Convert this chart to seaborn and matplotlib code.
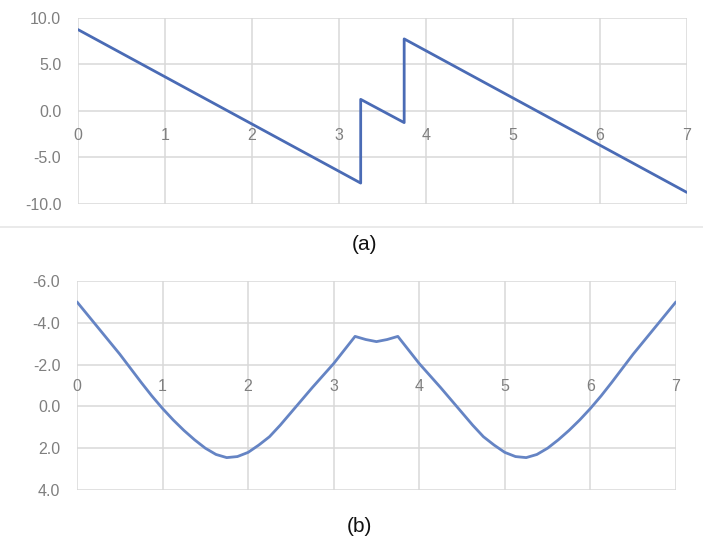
import matplotlib
matplotlib.use("Agg")
import matplotlib.pyplot as plt
import matplotlib.lines as mlines
import seaborn as sns
import pandas as pd

# Shear force diagram (a)
shear_x = [0.0, 3.25, 3.25, 3.75, 3.75, 7.0]
shear_v = [8.75, -7.75, 1.25, -1.25, 7.75, -8.75]

# Bending moment diagram (b)
moment_x = [0.0, 0.25, 0.5, 0.75, 0.875, 1.0, 1.125, 1.25, 1.375, 1.5, 1.625, 1.75,
            1.875, 2.0, 2.125, 2.25, 2.375, 2.5, 2.75, 3.0, 3.125, 3.25, 3.375, 3.5,
            3.625, 3.75, 3.875, 4.0, 4.25, 4.5, 4.625, 4.75, 4.875, 5.0, 5.125,
            5.25, 5.375, 5.5, 5.625, 5.75, 5.875, 6.0, 6.125, 6.25, 6.5, 6.75, 7.0]
moment_v = [-5.0, -3.75, -2.5, -1.15, -0.5, 0.1, 0.65, 1.15, 1.6, 2.0, 2.3, 2.45,
            2.4, 2.2, 1.85, 1.45, 0.9, 0.3, -0.9, -2.05, -2.7, -3.35, -3.2, -3.1,
            -3.2, -3.35, -2.7, -2.05, -0.9, 0.3, 0.9, 1.45, 1.85, 2.2, 2.4,
            2.45, 2.3, 2.0, 1.6, 1.15, 0.65, 0.1, -0.5, -1.15, -2.5, -3.75, -5.0]

x_ticks = [0, 1, 2, 3, 4, 5, 6, 7]
shear_ticks = [10.0, 5.0, 0.0, -5.0, -10.0]
moment_ticks = [-6.0, -4.0, -2.0, 0.0, 2.0, 4.0]

sns.set_theme(style="white")
plt.rcParams["font.family"] = ["Liberation Sans", "DejaVu Sans"]

GRID = "#d9d9d9"
TICK = "#7f7f7f"

fig = plt.figure(figsize=(7.03, 5.43), dpi=100)
ax1 = fig.add_axes([0.111, 0.6243, 0.866, 0.3426])
ax2 = fig.add_axes([0.1095, 0.0976, 0.852, 0.3849])

df1 = pd.DataFrame({"x": shear_x, "v": shear_v})
df2 = pd.DataFrame({"x": moment_x, "v": moment_v})

sns.lineplot(data=df1, x="x", y="v", ax=ax1, estimator=None, sort=False,
             color="#4a6bb5", linewidth=2.0, zorder=3)
sns.lineplot(data=df2, x="x", y="v", ax=ax2, estimator=None, sort=False,
             color="#6584c4", linewidth=2.0, zorder=3)
for line in ax1.lines + ax2.lines:
    line.set_solid_joinstyle("round")

for ax in (ax1, ax2):
    ax.set_xlim(0, 7)
    ax.set_xticks(x_ticks)
    ax.set_xticklabels([str(t) for t in x_ticks])
    ax.grid(True, color=GRID, linewidth=1.1)
    ax.set_axisbelow(True)
    ax.set_xlabel("")
    ax.set_ylabel("")
    for s in ax.spines.values():
        s.set_visible(False)
    ax.tick_params(length=0, colors=TICK, labelsize=11.5)
    ax.tick_params(axis="y", pad=12)

ax1.set_ylim(-10, 10)
ax1.set_yticks(shear_ticks)
ax1.set_yticklabels([f"{t:.1f}" for t in shear_ticks])
ax1.spines["bottom"].set_position(("data", 0))
ax1.tick_params(axis="x", pad=12)

ax2.set_ylim(4, -6)
ax2.set_yticks(moment_ticks)
ax2.set_yticklabels([f"{t:.1f}" for t in moment_ticks])
ax2.xaxis.set_ticks_position("top")
ax2.spines["top"].set_position(("data", 0))
ax2.tick_params(axis="x", pad=9, labeltop=True, labelbottom=False)

fig.text(0.518, 1 - 244 / 543, "(a)", ha="center", va="center", fontsize=15, color="#111111")
fig.text(0.511, 1 - 527 / 543, "(b)", ha="center", va="center", fontsize=15, color="#111111")

fig.add_artist(mlines.Line2D([0, 1], [1 - 226.5 / 543] * 2, color="#e6e6e6",
                             linewidth=1.2, transform=fig.transFigure))

fig.savefig("out.png", dpi=100)
